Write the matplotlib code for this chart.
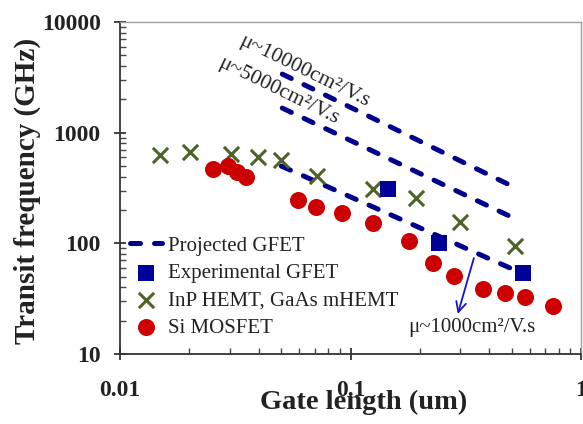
import matplotlib.pyplot as plt
from matplotlib import ticker

plt.rcParams["font.family"] = ["Liberation Serif", "DejaVu Serif"]

# projected GFET lines (start / end of each dashed line)
proj_1000_gate = [0.0501, 0.55]
proj_1000_ft = [499, 54]
proj_5000_gate = [0.0506, 0.511]
proj_5000_ft = [1668, 169]
proj_10000_gate = [0.0506, 0.511]
proj_10000_ft = [3383, 323]

# experimental GFET
exp_gate = [0.146, 0.241, 0.560]
exp_ft = [310, 101, 54]

# InP HEMT, GaAs mHEMT
hemt_gate = [0.0149, 0.0201, 0.0304, 0.0398, 0.0501, 0.0719, 0.125, 0.192, 0.298, 0.516]
hemt_ft = [628, 668, 641, 602, 566, 405, 310, 257, 156, 94.6]

# Si MOSFET
mos_gate = [0.0254, 0.0295, 0.0323, 0.0353, 0.0594, 0.0711, 0.0923, 0.125, 0.179,
            0.227, 0.280, 0.375, 0.467, 0.571, 0.755]
mos_ft = [469, 499, 441, 397, 246, 213, 188, 153, 105, 66.4, 50.7, 38.7, 35.6, 32.7, 27.1]

line_colour = "#00008f"
square_colour = "#000099"
hemt_colour = "#4f6228"
mos_colour = "#cc0000"
text_colour = "#222222"

fig = plt.figure(figsize=(5.83, 4.24), dpi=100)
ax = fig.add_axes([120 / 583, 70 / 424, 461 / 583, 332 / 424])

dash_style = dict(color=line_colour, linewidth=3.6, linestyle=(0, (2.0, 2.8)),
                  dash_capstyle="round")
ax.plot(proj_1000_gate, proj_1000_ft, label="Projected GFET", **dash_style)
ax.plot(proj_5000_gate, proj_5000_ft, **dash_style)
ax.plot(proj_10000_gate, proj_10000_ft, **dash_style)

ax.scatter(hemt_gate, hemt_ft, marker="x", s=120, linewidths=2.2, color=hemt_colour,
           label="InP HEMT, GaAs mHEMT", zorder=3)
ax.scatter(exp_gate, exp_ft, marker="s", s=125, color=square_colour, linewidths=0,
           label="Experimental GFET", zorder=4)
ax.scatter(mos_gate, mos_ft, marker="o", s=150, color=mos_colour, linewidths=0,
           label="Si MOSFET", zorder=5)

ax.set_xscale("log")
ax.set_yscale("log")
ax.set_xlim(0.01, 1)
ax.set_ylim(10, 10000)

fmt = ticker.FuncFormatter(lambda v, p: f"{v:g}")
ax.xaxis.set_major_formatter(fmt)
ax.yaxis.set_major_formatter(fmt)
ax.xaxis.set_minor_formatter(ticker.NullFormatter())
ax.yaxis.set_minor_formatter(ticker.NullFormatter())

ax.tick_params(axis="both", which="major", direction="inout", length=8, width=1.2,
               labelsize=17, colors="#222222")
ax.tick_params(axis="x", which="major", pad=14.5)
ax.tick_params(axis="y", which="major", pad=10)
ax.tick_params(axis="both", which="minor", direction="in", length=4, width=1, color="#444444")
for lab in ax.get_xticklabels() + ax.get_yticklabels():
    lab.set_fontweight("bold")

for side in ["top", "right"]:
    ax.spines[side].set_color("#a0a0a0")
    ax.spines[side].set_linewidth(1.0)
for side in ["left", "bottom"]:
    ax.spines[side].set_color("#333333")
    ax.spines[side].set_linewidth(1.3)

ax.set_xlabel("Gate length (um)", fontsize=20.5, fontweight="bold", color=text_colour)
ax.set_ylabel("Transit frequency (GHz)", fontsize=21, fontweight="bold", color=text_colour)
ax.xaxis.set_label_coords(0.528, -0.108)
ax.yaxis.set_label_coords(-0.172, 0.49)

# mobility annotations
ax.text(0.0326, 6310, "μ~10000cm²/V.s", rotation=-26, rotation_mode="anchor",
        ha="left", va="baseline", fontsize=15.5, color=text_colour)
ax.text(0.0264, 3999, "μ~5000cm²/V.s", rotation=-26, rotation_mode="anchor",
        ha="left", va="baseline", fontsize=15.5, color=text_colour)
ax.text(0.1787, 15.8, "μ~1000cm²/V.s", ha="left", va="baseline", fontsize=15,
        color=text_colour)
ax.annotate("", xy=(0.292, 23.0), xytext=(0.343, 73.6),
            arrowprops=dict(arrowstyle="->", color="#1414c8", lw=1.3,
                            mutation_scale=18, shrinkA=0, shrinkB=0))

handles, labels = ax.get_legend_handles_labels()
order = ["Projected GFET", "Experimental GFET", "InP HEMT, GaAs mHEMT", "Si MOSFET"]
hmap = dict(zip(labels, handles))
ax.legend([hmap[k] for k in order], order, loc="upper left",
          bbox_to_anchor=(0.0217, 0.355), borderaxespad=0, borderpad=0,
          frameon=False, fontsize=15, handlelength=1.55, handletextpad=0.25,
          labelspacing=0.37, labelcolor=text_colour)

fig.savefig("out.png", dpi=100)
